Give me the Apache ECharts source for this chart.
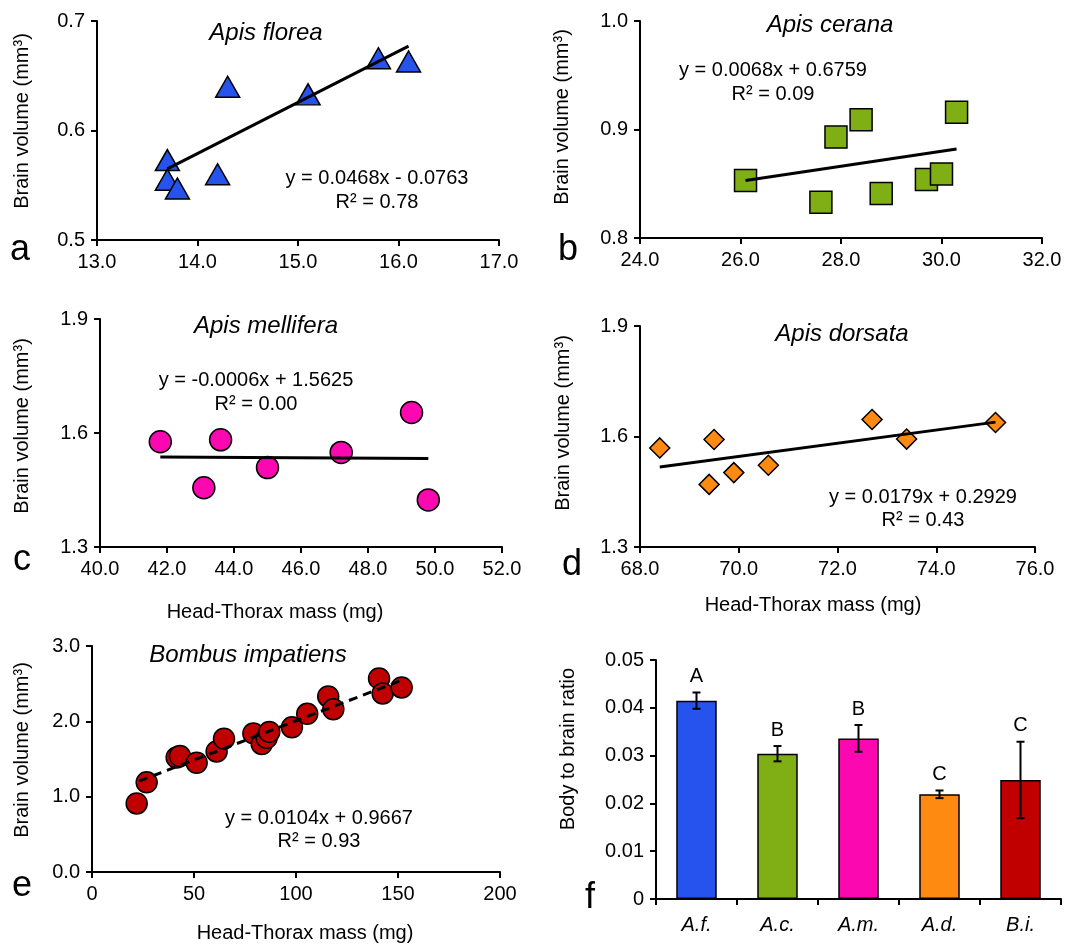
<!DOCTYPE html>
<html><head><meta charset="utf-8">
<script src="https://cdn.jsdelivr.net/npm/echarts@6/dist/echarts.min.js"></script>
<style>html,body{margin:0;padding:0;background:#fff}#c{width:1080px;height:945px}</style>
</head><body><div id="c"></div>
<script>
// ---- Data ----
const floreaX = [13.7, 13.7, 13.8, 14.2, 14.3, 15.1, 15.8, 16.1];
const floreaY = [0.573, 0.555, 0.547, 0.560, 0.640, 0.633, 0.666, 0.663];
const floreaFit = [[13.7, 0.565], [16.1, 0.677]];

const ceranaX = [26.1, 27.6, 27.9, 28.4, 28.8, 29.7, 30.0, 30.3];
const ceranaY = [0.853, 0.833, 0.893, 0.909, 0.841, 0.854, 0.859, 0.916];
const ceranaFit = [[26.1, 0.853], [30.3, 0.882]];

const melliferaX = [41.8, 43.1, 43.6, 45.0, 47.2, 49.3, 49.8];
const melliferaY = [1.577, 1.456, 1.582, 1.509, 1.549, 1.654, 1.424];
const melliferaFit = [[41.8, 1.537], [49.8, 1.533]];

const dorsataX = [68.4, 69.4, 69.5, 69.9, 70.6, 72.7, 73.4, 75.2];
const dorsataY = [1.569, 1.470, 1.592, 1.502, 1.522, 1.646, 1.593, 1.638];
const dorsataFit = [[68.4, 1.517], [75.2, 1.639]];

const bombusX = [21.9, 26.8, 41.5, 43.1, 51.3, 61.1, 64.7, 79.1, 83.2, 85.6, 86.9, 98.0, 105.5, 115.8, 118.3, 140.7, 142.5, 151.8];
const bombusY = [0.91, 1.19, 1.52, 1.54, 1.45, 1.60, 1.77, 1.84, 1.70, 1.78, 1.86, 1.92, 2.10, 2.33, 2.16, 2.57, 2.37, 2.45];
const bombusFit = [[23.0, 1.206], [152.0, 2.547]];

const ratioCats = ['A.f.', 'A.c.', 'A.m.', 'A.d.', 'B.i.'];
const ratioVals = [0.0415, 0.0304, 0.0336, 0.0219, 0.0249];
const ratioErr = [0.0017, 0.0016, 0.0028, 0.0008, 0.0080];
const ratioLetters = ['A', 'B', 'B', 'C', 'C'];

const ticksAX = [13, 14, 15, 16, 17], ticksAY = [0.5, 0.6, 0.7];
const ticksBX = [24, 26, 28, 30, 32], ticksBY = [0.8, 0.9, 1.0];
const ticksCX = [40, 42, 44, 46, 48, 50, 52], ticksCY = [1.3, 1.6, 1.9];
const ticksDX = [68, 70, 72, 74, 76], ticksDY = [1.3, 1.6, 1.9];
const ticksEX = [0, 50, 100, 150, 200], ticksEY = [0, 1, 2, 3];
const ticksFY = [0, 0.01, 0.02, 0.03, 0.04, 0.05];

const colBlue = '#2653ee', colGreen = '#7fae15', colPink = '#fb08b0', colOrange = '#ff8a12', colRed = '#c00000';

// ---- Helpers ----
const FONT = '"Liberation Sans", Arial, sans-serif';
const zip = (xs, ys) => xs.map((x, i) => [x, ys[i]]);
const axisCommon = {
  axisLine: { show: true, onZero: false, lineStyle: { color: '#000', width: 2 } },
  axisTick: { show: true, inside: false, length: 6, lineStyle: { color: '#000', width: 2 } },
  splitLine: { show: false },
};
function vAxis(gi, ticks, fmt) {
  return Object.assign({}, axisCommon, {
    type: 'value', gridIndex: gi, min: ticks[0], max: ticks[ticks.length - 1],
    axisTick: Object.assign({}, axisCommon.axisTick, { customValues: ticks }),
    axisLabel: { customValues: ticks, formatter: fmt, color: '#000', fontSize: 20, fontFamily: FONT, margin: 12, hideOverlap: false, showMinLabel: true, showMaxLabel: true },
  });
}
const f1 = v => v.toFixed(1);
const f0 = v => String(Math.round(v));

function scatter(gi, data, symbol, size, color) {
  return { type: 'scatter', xAxisIndex: gi, yAxisIndex: gi, data: data, symbol: symbol, symbolSize: size,
    itemStyle: { color: color, borderColor: '#000', borderWidth: 1.5, opacity: 1 }, z: 2, silent: true };
}
function fit(gi, data, dashed) {
  return { type: 'line', xAxisIndex: gi, yAxisIndex: gi, data: data, symbol: 'none', z: 5, silent: true,
    lineStyle: { color: '#000', width: 3, type: dashed ? [9, 6] : 'solid' } };
}
function txt(text, x, y, size, opts) {
  opts = opts || {};
  return { type: 'text', x: x, y: y, rotation: opts.rot || 0, silent: true, z: 100,
    style: { text: text, fill: '#000', align: 'center', verticalAlign: 'middle',
      font: (opts.italic ? 'italic ' : '') + size + 'px ' + FONT } };
}

const grids = [
  { left: 97, top: 21, width: 402, height: 219 },
  { left: 640, top: 21, width: 402, height: 217 },
  { left: 100, top: 319, width: 402, height: 228 },
  { left: 640, top: 326, width: 395, height: 221 },
  { left: 92, top: 646, width: 408, height: 226 },
  { left: 656, top: 660, width: 405, height: 239 },
];

const option = {
  animation: false,
  backgroundColor: '#fff',
  grid: grids,
  xAxis: [
    vAxis(0, ticksAX, f1),
    vAxis(1, ticksBX, f1),
    vAxis(2, ticksCX, f1),
    vAxis(3, ticksDX, f1),
    vAxis(4, ticksEX, f0),
    Object.assign({}, axisCommon, { type: 'category', gridIndex: 5, data: ratioCats,
      axisTick: Object.assign({}, axisCommon.axisTick, { alignWithLabel: false }),
      axisLabel: { color: '#000', fontSize: 20, fontFamily: FONT, fontStyle: 'italic', margin: 16 } }),
  ],
  yAxis: [
    vAxis(0, ticksAY, f1),
    vAxis(1, ticksBY, f1),
    vAxis(2, ticksCY, f1),
    vAxis(3, ticksDY, f1),
    vAxis(4, ticksEY, f1),
    vAxis(5, ticksFY, v => (v === 0 ? '0' : v.toFixed(2))),
  ],
  series: [
    scatter(0, zip(floreaX, floreaY), 'triangle', [24, 21], colBlue),
    fit(0, floreaFit),
    scatter(1, zip(ceranaX, ceranaY), 'rect', 22, colGreen),
    fit(1, ceranaFit),
    scatter(2, zip(melliferaX, melliferaY), 'circle', 22, colPink),
    fit(2, melliferaFit),
    scatter(3, zip(dorsataX, dorsataY), 'diamond', [20, 20], colOrange),
    fit(3, dorsataFit),
    scatter(4, zip(bombusX, bombusY), 'circle', 21, colRed),
    fit(4, bombusFit, true),
    { type: 'bar', xAxisIndex: 5, yAxisIndex: 5, barWidth: '50%', silent: true,
      data: ratioVals.map((v, i) => ({ value: v, itemStyle: { color: [colBlue, colGreen, colPink, colOrange, colRed][i] } })),
      itemStyle: { borderColor: '#000', borderWidth: 1.5 } },
    { type: 'custom', xAxisIndex: 5, yAxisIndex: 5, silent: true, z: 10,
      data: ratioVals.map((v, i) => [i, v - ratioErr[i], v + ratioErr[i]]),
      renderItem: function (params, api) {
        const i = api.value(0);
        const top = api.coord([i, api.value(2)]);
        const bot = api.coord([i, api.value(1)]);
        const hw = 4;
        const st = { stroke: '#000', lineWidth: 2 };
        return { type: 'group', children: [
          { type: 'line', shape: { x1: top[0], y1: top[1], x2: bot[0], y2: bot[1] }, style: st },
          { type: 'line', shape: { x1: top[0] - hw, y1: top[1], x2: top[0] + hw, y2: top[1] }, style: st },
          { type: 'line', shape: { x1: bot[0] - hw, y1: bot[1], x2: bot[0] + hw, y2: bot[1] }, style: st },
          { type: 'text', x: top[0], y: top[1] - 6, style: { text: ratioLetters[params.dataIndex], fill: '#000',
            align: 'center', verticalAlign: 'bottom', font: '20px ' + FONT } },
        ] };
      } },
  ],
  graphic: [
    // titles
    txt('Apis florea', 266, 33, 24, { italic: true }),
    txt('Apis cerana', 830, 25, 24, { italic: true }),
    txt('Apis mellifera', 266, 326, 24, { italic: true }),
    txt('Apis dorsata', 842, 334, 24, { italic: true }),
    txt('Bombus impatiens', 248, 655, 24, { italic: true }),
    // equations
    txt('y = 0.0468x - 0.0763', 377, 178, 20), txt('R² = 0.78', 377, 202, 20),
    txt('y = 0.0068x + 0.6759', 773, 70, 20), txt('R² = 0.09', 773, 94, 20),
    txt('y = -0.0006x + 1.5625', 256, 380, 20), txt('R² = 0.00', 256, 404, 20),
    txt('y = 0.0179x + 0.2929', 923, 497, 20), txt('R² = 0.43', 923, 520, 20),
    txt('y = 0.0104x + 0.9667', 319, 818, 20), txt('R² = 0.93', 319, 841, 20),
    // y axis names
    txt('Brain volume (mm³)', 22, 121, 20, { rot: Math.PI / 2 }),
    txt('Brain volume (mm³)', 562, 117, 20, { rot: Math.PI / 2 }),
    txt('Brain volume (mm³)', 22, 426, 20, { rot: Math.PI / 2 }),
    txt('Brain volume (mm³)', 563, 423, 20, { rot: Math.PI / 2 }),
    txt('Brain volume (mm³)', 22, 750, 20, { rot: Math.PI / 2 }),
    txt('Body to brain ratio', 568, 749, 20, { rot: Math.PI / 2 }),
    // x axis names
    txt('Head-Thorax mass (mg)', 275, 612, 20),
    txt('Head-Thorax mass (mg)', 813, 605, 20),
    txt('Head-Thorax mass (mg)', 305, 933, 20),
    // panel letters
    txt('a', 20, 250, 36), txt('b', 568, 250, 36), txt('c', 22, 560, 36),
    txt('d', 572, 565, 36), txt('e', 22, 886, 36), txt('f', 590, 898, 36),
  ],
};
const chart = echarts.init(document.getElementById('c'), null, { renderer: 'canvas' });
chart.setOption(option);
</script></body></html>
